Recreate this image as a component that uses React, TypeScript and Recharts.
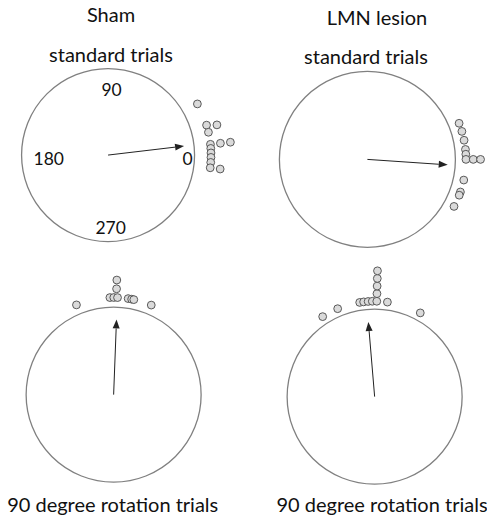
import { ScatterChart, Scatter, XAxis, YAxis, ReferenceDot, ReferenceLine } from 'recharts';

// angles in degrees (0 = right, 90 = up), stack level counted outward from the circle
const shamStdAngles = [29.8, 16.9, 12.8, 15.5, 6, 6, 6, 3.7, 1.2, -1.3, -4.1, -7.1, -7.1];
const shamStdLevels = [0, 0, 0, 1, 0, 1, 2, 0, 0, 0, 0, 0, 1];
const lmnStdAngles = [21.5, 16.5, 11.2, 5.8, 3, 0, 0, 0, -12.1, -19.3, -21.3, -28.5];
const lmnStdLevels = [0, 0, 0, 0, 0, 0, 1, 2, 0, 0, 0, 0];
const shamRotAngles = [112.5, 92.2, 89.9, 87.7, 88.4, 88.4, 81.4, 79.3, 78, 67.2];
const shamRotLevels = [0, 0, 0, 0, 1, 2, 0, 0, 0, 0];
const lmnRotAngles = [123, 112.8, 99, 96.6, 93.9, 91.4, 88.7, 88.7, 88.7, 88.7, 88.7, 82.3, 61.4];
const lmnRotLevels = [0, 0, 0, 0, 0, 0, 0, 1, 2, 3, 4, 0, 0];

// mean vectors: [angle in degrees, length relative to circle radius]
const shamStdMean = [6.75, 0.885];
const lmnStdMean = [-3.9, 0.915];
const shamRotMean = [87.8, 0.86];
const lmnRotMean = [94.8, 0.855];

const directionLabels = ['0', '90', '180', '270'];

const D = 1.55;
const FONT = 'Lato, "Open Sans", sans-serif';

const rad = (deg: number) => (deg * Math.PI) / 180;

function toPoints(angles: number[], levels: number[], base: number, step: number) {
  return angles.map((a, i) => {
    const r = base + levels[i] * step;
    return { x: r * Math.cos(rad(a)), y: r * Math.sin(rad(a)) };
  });
}

const Arrow = (p: any) => {
  const { x1, y1, x2, y2 } = p;
  const ang = Math.atan2(y2 - y1, x2 - x1);
  const len = 9;
  const w = 3.5;
  const bx = x2 - len * Math.cos(ang);
  const by = y2 - len * Math.sin(ang);
  const pts = [
    `${x2},${y2}`,
    `${bx + w * Math.sin(ang)},${by - w * Math.cos(ang)}`,
    `${bx - w * Math.sin(ang)},${by + w * Math.cos(ang)}`,
  ].join(' ');
  return (
    <g>
      <line x1={x1} y1={y1} x2={bx} y2={by} stroke="#222" strokeWidth={1} />
      <polygon points={pts} fill="#222" />
    </g>
  );
};

const Dot = (p: any) => (
  <circle cx={p.cx} cy={p.cy} r={3.9} fill="#dadada" stroke="#4a4a4a" strokeWidth={0.9} />
);

type PanelProps = {
  cx: number;
  cy: number;
  R: number;
  angles: number[];
  levels: number[];
  base: number;
  step: number;
  mean: number[];
  showLabels?: boolean;
};

function CirclePanel({ cx, cy, R, angles, levels, base, step, mean, showLabels }: PanelProps) {
  const size = 2 * D * R;
  const data = toPoints(angles, levels, base, step);
  const end = { x: mean[1] * Math.cos(rad(mean[0])), y: mean[1] * Math.sin(rad(mean[0])) };
  const labelPos: Record<string, { x: number; y: number }> = {
    '0': { x: 0.918, y: -0.04 },
    '90': { x: 0.04, y: 0.756 },
    '180': { x: -0.686, y: -0.04 },
    '270': { x: 0.03, y: -0.832 },
  };
  return (
    <div style={{ position: 'absolute', left: cx - size / 2, top: cy - size / 2 }}>
      <ScatterChart width={size} height={size} margin={{ top: 0, right: 0, bottom: 0, left: 0 }}>
        <XAxis type="number" dataKey="x" domain={[-D, D]} allowDataOverflow hide />
        <YAxis type="number" dataKey="y" domain={[-D, D]} allowDataOverflow hide />
        <ReferenceDot x={0} y={0} r={R} fill="none" stroke="#808080" strokeWidth={1.3} />
        {showLabels &&
          directionLabels.map((t) => (
            <ReferenceDot
              key={t}
              x={labelPos[t].x}
              y={labelPos[t].y}
              r={1}
              shape={(p: any) => (
                <text x={p.cx} y={p.cy} textAnchor="middle" dominantBaseline="central" fontSize={17.5} fontFamily={FONT} fill="#111">
                  {t}
                </text>
              )}
            />
          ))}
        <ReferenceLine segment={[{ x: 0, y: 0 }, end]} shape={Arrow} />
        <Scatter data={data} shape={Dot} isAnimationActive={false} />
      </ScatterChart>
    </div>
  );
}

const Title = ({ x, y, children }: { x: number; y: number; children: string }) => (
  <div
    style={{
      position: 'absolute',
      left: x,
      top: y,
      transform: 'translate(-50%, -50%)',
      whiteSpace: 'nowrap',
      fontFamily: FONT,
      fontSize: 20,
      color: '#111',
      lineHeight: 1,
    }}
  >
    {children}
  </div>
);

export default function App() {
  return (
    <div style={{ position: 'absolute', left: 0, top: 0, width: 487, height: 521, background: '#fff', overflow: 'hidden' }}>
      <CirclePanel cx={108.3} cy={154.7} R={86.5} angles={shamStdAngles} levels={shamStdLevels} base={1.19} step={0.116} mean={shamStdMean} showLabels />
      <CirclePanel cx={367.7} cy={159.2} R={88} angles={lmnStdAngles} levels={lmnStdLevels} base={1.12} step={0.083} mean={lmnStdMean} />
      <CirclePanel cx={113.8} cy={394.7} R={87.5} angles={shamRotAngles} levels={shamRotLevels} base={1.11} step={0.1} mean={shamRotMean} />
      <CirclePanel cx={374.3} cy={396.3} R={87.5} angles={lmnRotAngles} levels={lmnRotLevels} base={1.09} step={0.087} mean={lmnRotMean} />
      <Title x={111} y={14}>Sham</Title>
      <Title x={377} y={17}>LMN lesion</Title>
      <Title x={111} y={54}>standard trials</Title>
      <Title x={366} y={56}>standard trials</Title>
      <Title x={112.7} y={504}>90 degree rotation trials</Title>
      <Title x={382} y={504}>90 degree rotation trials</Title>
    </div>
  );
}
